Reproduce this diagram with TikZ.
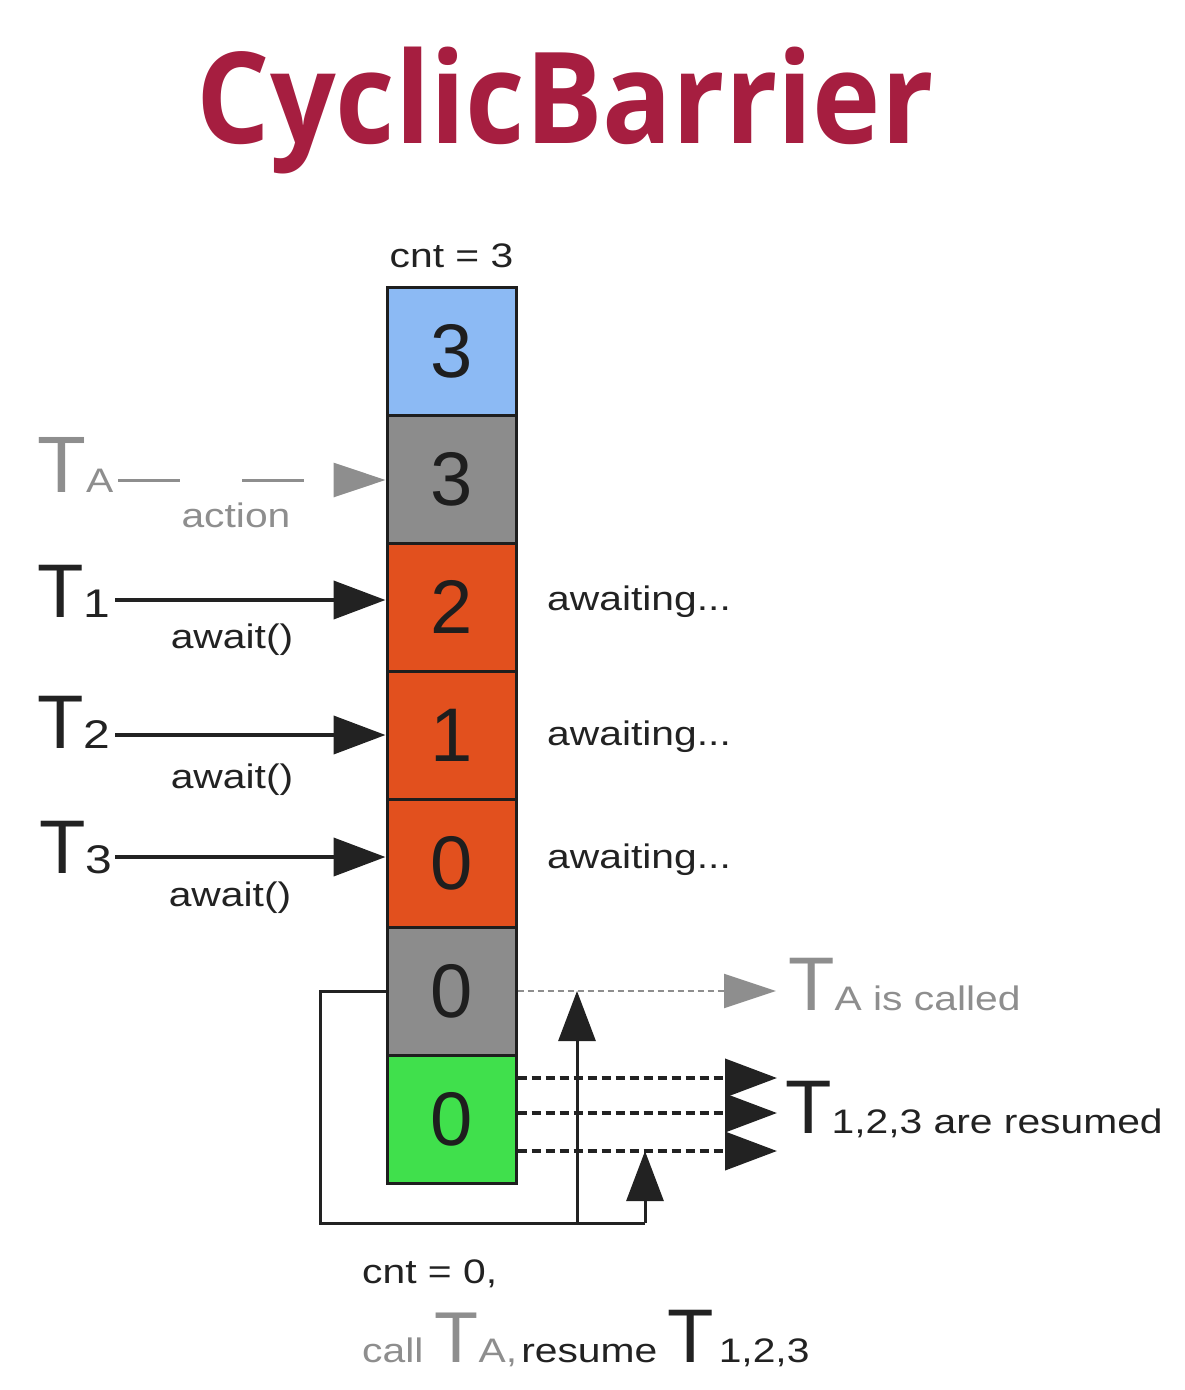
\documentclass[tikz,border=0pt]{standalone}
\usepackage{fontspec}
\setmainfont{Liberation Sans}
\newfontfamily\wfont[FakeStretch=1.2]{Liberation Sans}
\newfontfamily\titlefont[FakeStretch=0.91]{Open Sans}
\usetikzlibrary{arrows.meta}

\definecolor{titlered}{RGB}{166,30,64}
\definecolor{cblue}{RGB}{140,186,244}
\definecolor{cgray}{RGB}{140,140,140}
\definecolor{corange}{RGB}{226,80,30}
\definecolor{cgreen}{RGB}{64,224,76}
\definecolor{cline}{RGB}{30,30,30}
\definecolor{tdark}{RGB}{34,34,34}
\definecolor{tgray}{RGB}{142,142,142}

\newcommand{\fsz}[1]{\fontsize{#1}{#1}\selectfont}
\newcommand{\bigT}{{\normalfont\fsz{76}T}}

\begin{document}
\begin{tikzpicture}[x=1pt, y=-1pt,
    cell/.style={draw=cline, line width=3pt, minimum width=129pt, minimum height=128pt, inner sep=0pt, text=cline, font=\fsz{76}},
    lbl/.style={inner sep=0pt, text=tdark, font=\wfont\fsz{34}},
    glbl/.style={inner sep=0pt, text=tgray, font=\wfont\fsz{34}},
    await/.style={draw=tdark, line width=4pt, -{Triangle[length=52pt, width=38pt]}},
    action/.style={draw=tgray, line width=3pt, dash pattern=on 62pt off 62pt, -{Triangle[length=52pt, width=34pt]}},
    loopline/.style={draw=tdark, line width=3pt},
    uparrow/.style={draw=tdark, line width=3pt, -{Triangle[length=50pt, width=37pt]}},
    resume/.style={draw=tdark, line width=4pt, dash pattern=on 9pt off 5pt, -{Triangle[length=52pt, width=38pt]}},
    called/.style={draw=tgray, line width=2pt, dash pattern=on 6pt off 4pt, -{Triangle[length=52pt, width=34pt]}}]
\useasboundingbox (0,0) rectangle (1184,1390);

% Title
\node[anchor=base, text=titlered, font=\titlefont\bfseries\fsz{127}] (title) at (565,143) {CyclicBarrier};

% Nodes
\node[lbl] (cnttop) at (451.5,256) {cnt = 3};
\node[cell, fill=cblue] (c1) at (451.5,351) {3};
\node[cell, fill=cgray] (c2) at (451.5,479) {3};
\node[cell, fill=corange] (c3) at (451.5,607) {2};
\node[cell, fill=corange] (c4) at (451.5,735) {1};
\node[cell, fill=corange] (c5) at (451.5,863) {0};
\node[cell, fill=cgray] (c6) at (451.5,991) {0};
\node[cell, fill=cgreen] (c7) at (451.5,1119) {0};

\node[glbl, anchor=base west] (ta) at (37,492) {{\normalfont\fsz{80}T}A};
\node[lbl, anchor=base west] (t1) at (37,617) {\bigT{\fsz{40}1}};
\node[lbl, anchor=base west] (t2) at (37,748) {\bigT{\fsz{40}2}};
\node[lbl, anchor=base west] (t3) at (39,873) {\bigT{\fsz{40}3}};

\node[glbl] (act) at (236,515) {action};
\node[lbl] (aw1) at (232,640) {await()};
\node[lbl] (aw2) at (232,780) {await()};
\node[lbl] (aw3) at (230,898) {await()};

\node[lbl, anchor=west] (w1) at (547,602) {awaiting...};
\node[lbl, anchor=west] (w2) at (547,737) {awaiting...};
\node[lbl, anchor=west] (w3) at (547,860) {awaiting...};

\node[glbl, anchor=base west, inner xsep=12pt] (tc) at (776,1010) {\bigT A is called};
\node[lbl, anchor=base west, inner xsep=8pt] (tr) at (777,1133) {\bigT 1,2,3 are resumed};

\node[lbl, anchor=base west] (cntzero) at (362,1283) {cnt = 0,};
\node[lbl, anchor=base west] (callnote) at (362,1362) {{\color{tgray}call {\normalfont\fsz{72}T}A,}\hspace{4pt}resume\hspace{10pt}\bigT\hspace{5pt}1,2,3};

% Edges
\coordinate (sa) at (118,480);
\coordinate (s1) at (115,600);
\coordinate (s2) at (115,735);
\coordinate (s3) at (115,857);
\draw[action] (sa) -- (sa -| c2.west);
\draw[await] (s1) -- (s1 -| c3.west);
\draw[await] (s2) -- (s2 -| c4.west);
\draw[await] (s3) -- (s3 -| c5.west);

\coordinate (r1) at ([yshift=41pt]c7.east);
\coordinate (r2) at ([yshift=6pt]c7.east);
\coordinate (r3) at ([yshift=-32pt]c7.east);
\draw[called] (c6.east) -- (c6.east -| tc.west);
\draw[resume] (r1) -- (r1 -| tr.west);
\draw[resume] (r2) -- (r2 -| tr.west);
\draw[resume] (r3) -- (r3 -| tr.west);

\coordinate (lb) at (320,1223);
\coordinate (mb) at (577,1223);
\coordinate (rb) at (645,1223);
\draw[loopline] (c6.west) -| (lb) -- (rb);
\draw[uparrow] (mb) -- (mb |- c6.east);
\draw[uparrow] (rb) -- (rb |- r3);
\end{tikzpicture}
\end{document}
